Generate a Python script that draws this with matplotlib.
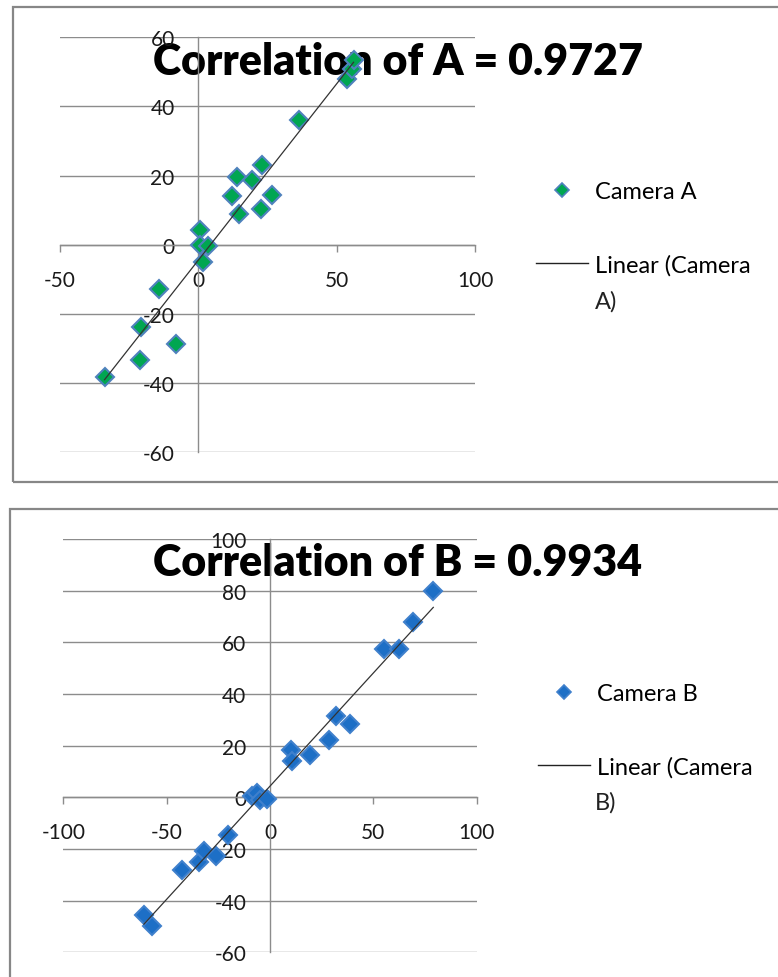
import numpy as np
import matplotlib
matplotlib.use("Agg")
import matplotlib.pyplot as plt
from matplotlib.patches import Rectangle
from matplotlib.lines import Line2D

# ---------------- data ----------------
camera_a_x = [-33.9, -21.2, -20.6, -14.2, -8.0, 0.5, 0.5, 3.5, 1.7, 12.2,
              14.0, 14.6, 19.4, 23.1, 22.8, 26.6, 36.3, 53.9, 55.7, 56.1]
camera_a_y = [-38.2, -33.4, -23.8, -12.9, -28.6, 4.3, 0.0, -0.4, -5.0, 14.0,
              19.6, 8.8, 18.6, 23.2, 10.4, 14.3, 36.2, 48.0, 50.7, 53.3]

camera_b_x = [-61.0, -57.3, -42.7, -34.2, -31.8, -26.1, -20.2, -8.5, -6.5, -4.8,
              -1.6, 10.2, 10.8, 19.4, 28.5, 31.8, 38.7, 55.3, 62.4, 69.0, 79.0]
camera_b_y = [-45.5, -49.8, -28.3, -25.0, -20.6, -22.8, -14.4, 0.4, 1.7, -0.9,
              -0.6, 18.4, 13.9, 16.2, 22.3, 31.6, 28.3, 57.6, 57.4, 67.9, 79.7]

title_a = "Correlation of A = 0.9727"
title_b = "Correlation of B = 0.9934"
series_a = "Camera A"
series_b = "Camera B"
xticks_a = [-50, 0, 50, 100]
yticks_a = [-60, -40, -20, 0, 20, 40, 60]
xticks_b = [-100, -50, 0, 50, 100]
yticks_b = [-60, -40, -20, 0, 20, 40, 60, 80, 100]

# ---------------- style ----------------
W, H = 778, 978
FONT = "Lato"
GRID = "#8c8c8c"
FRAME = "#878787"
TICK_FS = 15
LEG_FS = 17

plt.rcParams["font.family"] = [FONT, "DejaVu Sans"]
plt.rcParams["axes.unicode_minus"] = False

fig = plt.figure(figsize=(W / 100, H / 100), dpi=100)


def px_axes(x0, x1, ytop, ybot):
    return fig.add_axes([x0 / W, 1 - ybot / H, (x1 - x0) / W, (ybot - ytop) / H])


def style(ax, xticks, yticks):
    ax.set_xlim(xticks[0], xticks[-1])
    ax.set_ylim(yticks[0], yticks[-1])
    ax.set_xticks(xticks)
    ax.set_yticks(yticks)
    for s in ["top", "right"]:
        ax.spines[s].set_visible(False)
    for s in ["left", "bottom"]:
        ax.spines[s].set_position(("data", 0))
        ax.spines[s].set_color(GRID)
        ax.spines[s].set_linewidth(1.0)
    ax.yaxis.grid(True, color=GRID, lw=1.0)
    ax.set_axisbelow(True)
    ax.tick_params(axis="y", length=0, pad=17, labelsize=TICK_FS, labelcolor="#1a1a1a")
    ax.tick_params(axis="x", length=5, width=1, direction="out", color=GRID,
                   pad=13, labelsize=TICK_FS, labelcolor="#1a1a1a")
    ax.patch.set_alpha(0)


def panel(ax, xs, ys, fill, edge, xticks, yticks):
    style(ax, xticks, yticks)
    ax.plot(xs, ys, ls="none", marker="D", ms=9.5, mfc=fill, mec=edge, mew=1.5,
            zorder=3, clip_on=False)
    coef = np.polyfit(xs, ys, 1)
    xl = np.array([min(xs), max(xs)])
    ax.plot(xl, np.polyval(coef, xl), color="#333333", lw=0.9, zorder=4)


# top panel
ax1 = px_axes(60, 475, 38.3, 453.3)
panel(ax1, camera_a_x, camera_a_y, "#00a651", "#4f81bd", xticks_a, yticks_a)
# bottom panel
ax2 = px_axes(63.3, 476.7, 540, 953.3)
panel(ax2, camera_b_x, camera_b_y, "#1d6fc6", "#3f80cc", xticks_b, yticks_b)

for ax in (ax1, ax2):
    ax.set_zorder(5)

# frames
fig.add_artist(Rectangle((13 / W, 1 - 483 / H), (W + 10 - 13) / W, (483 - 8) / H,
                         transform=fig.transFigure, fill=False, ec=FRAME, lw=1.6,
                         clip_on=False))
fig.add_artist(Rectangle((10 / W, 1 - (H + 10) / H), (W + 10 - 10) / W, (H + 10 - 510) / H,
                         transform=fig.transFigure, fill=False, ec=FRAME, lw=1.6,
                         clip_on=False))

# titles (fit to measured width)
fig.canvas.draw()
renderer = fig.canvas.get_renderer()


def fit_title(txt, cx, base_y, target_w):
    t = fig.text(cx / W, 1 - base_y / H, txt, ha="center", va="baseline",
                 fontsize=32, fontweight="heavy", family=[FONT, "DejaVu Sans"], zorder=1)
    w = t.get_window_extent(renderer).width
    t.set_fontsize(32 * target_w / w)
    return t


fit_title(title_a, 398, 75, 490)
fit_title(title_b, 398, 576, 490)

# legends
fs_px = LEG_FS * 100 / 72.0


def legend(fill, edge, name, cx0, cy, extra, extra_y):
    h_mark = Line2D([], [], ls="none", marker="D", ms=7, mfc=fill, mec=edge, mew=1.2)
    h_line = Line2D([], [], color="#222222", lw=1.0)
    fig.legend([h_mark, h_line], [name, "Linear (Camera"], loc="center left",
               bbox_to_anchor=(cx0 / W, 1 - cy / H), frameon=False,
               handlelength=52 / fs_px, handletextpad=7 / fs_px,
               labelspacing=2.2, borderpad=0, borderaxespad=0, fontsize=LEG_FS,
               numpoints=1)
    fig.text(595 / W, 1 - extra_y / H, extra, ha="left", va="center",
             fontsize=LEG_FS, color="#222222")


legend("#00a651", "#4f81bd", series_a, 536, 229, "A)", 302)
legend("#1d6fc6", "#3f80cc", series_b, 538, 731, "B)", 803)

fig.savefig("out.png", dpi=100)
